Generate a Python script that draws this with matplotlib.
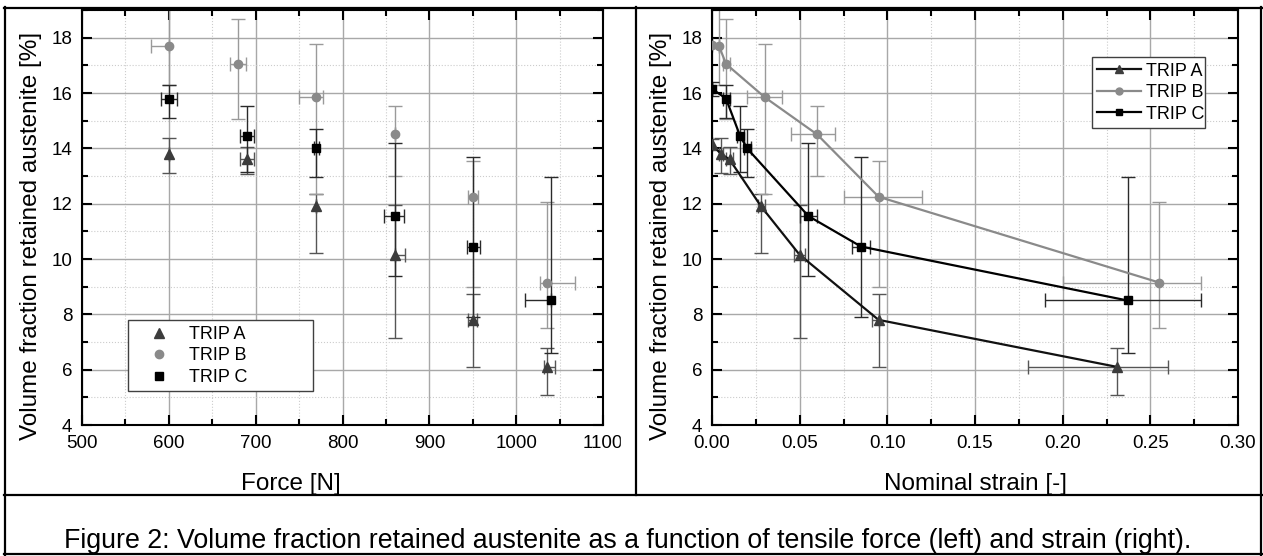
import matplotlib
matplotlib.use("Agg")
import matplotlib.pyplot as plt
from matplotlib.ticker import MultipleLocator
from matplotlib.lines import Line2D
from matplotlib.patches import Rectangle

plt.rcParams['font.family'] = ['Liberation Sans', 'DejaVu Sans']

# ---- data ----
labels = ["TRIP A", "TRIP B", "TRIP C"]

# left panel: tensile force [N]
force_a = [600, 690, 770, 860, 950, 1035]
force_b = [600, 680, 770, 860, 950, 1035]
force_c = [600, 690, 770, 860, 950, 1040]
force_a_lo = [600, 682, 770, 860, 945, 1032]
force_a_hi = [600, 698, 770, 872, 955, 1045]
force_b_lo = [580, 671, 750, 860, 944, 1028]
force_b_hi = [600, 689, 778, 860, 956, 1068]
force_c_lo = [591, 682, 767, 848, 943, 1010]
force_c_hi = [609, 698, 773, 871, 958, 1040]

# right panel: nominal strain (first point = unloaded state)
strain_a = [0.0, 0.005, 0.010, 0.028, 0.050, 0.095, 0.231]
strain_b = [0.0, 0.004, 0.008, 0.030, 0.060, 0.095, 0.255]
strain_c = [0.0, 0.008, 0.016, 0.020, 0.055, 0.085, 0.237]
strain_a_lo = [0.0, 0.004, 0.008, 0.026, 0.047, 0.091, 0.180]
strain_a_hi = [0.0, 0.006, 0.012, 0.030, 0.053, 0.095, 0.260]
strain_b_lo = [0.0, 0.004, 0.006, 0.020, 0.045, 0.075, 0.200]
strain_b_hi = [0.0, 0.004, 0.010, 0.040, 0.070, 0.120, 0.279]
strain_c_lo = [0.0, 0.006, 0.014, 0.018, 0.050, 0.080, 0.190]
strain_c_hi = [0.0, 0.010, 0.018, 0.022, 0.060, 0.090, 0.279]

# volume fraction retained austenite [%] (first value = unloaded state)
frac_a = [14.15, 13.8, 13.6, 11.9, 10.15, 7.8, 6.1]
frac_b = [17.75, 17.7, 17.05, 15.85, 14.5, 12.25, 9.15]
frac_c = [16.15, 15.8, 14.45, 14.0, 11.55, 10.45, 8.5]
frac_a_lo = [13.95, 13.12, 13.06, 10.22, 7.13, 6.10, 5.08]
frac_a_hi = [14.35, 14.36, 14.04, 12.34, 11.94, 8.72, 6.79]
frac_b_lo = [17.75, 16.30, 15.06, 12.34, 13.00, 9.00, 7.49]
frac_b_hi = [17.75, 19.10, 18.68, 17.76, 15.53, 13.55, 12.07]
frac_c_lo = [15.90, 15.08, 13.15, 12.95, 9.37, 7.91, 6.59]
frac_c_hi = [16.40, 16.29, 15.53, 14.70, 14.18, 13.70, 12.97]

caption = ("Figure 2: Volume fraction retained austenite as a function of "
           "tensile force (left) and strain (right).")

# ---- styling ----
marker_col = ['#3c3c3c', '#8a8a8a', '#000000']
line_col = ['#111111', '#8a8a8a', '#000000']
err_col = ['#555555', '#9a9a9a', '#2a2a2a']
markers = ['^', 'o', 's']
msizes = [6.5, 6, 5.5]

W, H = 1263, 556


def px_box(x0, y0, x1, y1):
    return [x0 / W, 1 - y1 / H, (x1 - x0) / W, (y1 - y0) / H]


def style_axes(ax, xmaj, xmin):
    ax.xaxis.set_major_locator(MultipleLocator(xmaj))
    ax.xaxis.set_minor_locator(MultipleLocator(xmin))
    ax.yaxis.set_major_locator(MultipleLocator(2))
    ax.yaxis.set_minor_locator(MultipleLocator(1))
    ax.set_ylim(4, 19)
    ax.grid(which='major', color='#a8a8a8', lw=1.0, ls='-')
    ax.grid(which='minor', color='#cccccc', lw=0.8, ls=':')
    ax.set_axisbelow(True)
    ax.tick_params(which='both', direction='in', top=True, right=True)
    ax.tick_params(which='major', length=7, width=1.5, labelsize=13.5, pad=7)
    ax.tick_params(which='minor', length=4, width=1.5)
    for s in ax.spines.values():
        s.set_linewidth(1.5)
    ax.set_ylabel("Volume fraction retained austenite [%]", fontsize=17.5)
    ax.yaxis.set_label_coords(-0.076, 0.455)


def draw_err(ax, x, xlo, xhi, y, ylo, yhi, col):
    xe = [[a - b for a, b in zip(x, xlo)], [b - a for a, b in zip(x, xhi)]]
    ye = [[a - b for a, b in zip(y, ylo)], [b - a for a, b in zip(y, yhi)]]
    ax.errorbar(x, y, xerr=xe, yerr=ye, fmt='none', ecolor=col,
                elinewidth=1.0, capsize=5, capthick=1.0, zorder=2)


fig = plt.figure(figsize=(12.63, 5.56), dpi=100)
ax1 = fig.add_axes(px_box(82, 10, 603, 425))
ax2 = fig.add_axes(px_box(712, 10, 1238, 425))

# ---- left panel ----
left_sets = [
    (force_a, force_a_lo, force_a_hi, frac_a, frac_a_lo, frac_a_hi),
    (force_b, force_b_lo, force_b_hi, frac_b, frac_b_lo, frac_b_hi),
    (force_c, force_c_lo, force_c_hi, frac_c, frac_c_lo, frac_c_hi),
]
for i, (x, xlo, xhi, y, ylo, yhi) in enumerate(left_sets):
    draw_err(ax1, x, xlo, xhi, y[1:], ylo[1:], yhi[1:], err_col[i])
    ax1.plot(x, y[1:], ls='none', marker=markers[i], ms=msizes[i],
             color=marker_col[i], label=labels[i], zorder=3)
style_axes(ax1, 100, 50)
ax1.set_xlim(500, 1100)
ax1.set_xlabel("Force [N]", fontsize=17.5)
ax1.xaxis.set_label_coords(0.40, -0.115)
leg1 = ax1.legend(loc='upper left', bbox_to_anchor=(0.088, 0.091, 0.355, 0.161),
                  mode='expand', borderaxespad=0, fontsize=13, numpoints=1,
                  handlelength=2.9, handletextpad=0.2, labelspacing=0.25,
                  borderpad=0.3, fancybox=False, framealpha=1)
leg1.get_frame().set_edgecolor('#404040')
leg1.get_frame().set_linewidth(1.0)

# ---- right panel ----
right_sets = [
    (strain_a, strain_a_lo, strain_a_hi, frac_a, frac_a_lo, frac_a_hi),
    (strain_b, strain_b_lo, strain_b_hi, frac_b, frac_b_lo, frac_b_hi),
    (strain_c, strain_c_lo, strain_c_hi, frac_c, frac_c_lo, frac_c_hi),
]
handles = []
for i, (x, xlo, xhi, y, ylo, yhi) in enumerate(right_sets):
    draw_err(ax2, x, xlo, xhi, y, ylo, yhi, err_col[i])
    ax2.plot(x, y, ls='-', lw=1.6, color=line_col[i], zorder=2.5)
    ax2.plot(x, y, ls='none', marker=markers[i], ms=msizes[i],
             color=marker_col[i], zorder=3)
    handles.append(Line2D([], [], color=line_col[i], lw=1.6, marker=markers[i],
                          ms=msizes[i] - 1, mfc=marker_col[i], mec=marker_col[i]))
style_axes(ax2, 0.05, 0.025)
ax2.set_xlim(0, 0.30)
ax2.xaxis.set_major_formatter(plt.FuncFormatter(lambda v, p: f"{v:.2f}"))
ax2.set_xlabel("Nominal strain [-]", fontsize=17.5)
ax2.xaxis.set_label_coords(0.5, -0.115)
leg2 = ax2.legend(handles, labels, loc='upper left',
                  bbox_to_anchor=(0.722, 0.723, 0.216, 0.163), mode='expand',
                  borderaxespad=0, fontsize=13, handlelength=2.4,
                  handletextpad=0.3, labelspacing=0.25, borderpad=0.3,
                  fancybox=False, framealpha=1)
leg2.get_frame().set_edgecolor('#404040')
leg2.get_frame().set_linewidth(1.0)

# ---- table frame around the figure ----
fig.add_artist(Rectangle((621 / W, 1 - 470 / H), 15 / W, 42 / H,
                         transform=fig.transFigure, color='white', zorder=9))


def hline(y, x0, x1):
    fig.add_artist(Line2D([x0 / W, x1 / W], [1 - y / H, 1 - y / H],
                          transform=fig.transFigure, color='black', lw=1.6,
                          zorder=10))


def vline(x, y0, y1):
    fig.add_artist(Line2D([x / W, x / W], [1 - y0 / H, 1 - y1 / H],
                          transform=fig.transFigure, color='black', lw=1.6,
                          zorder=10))


hline(8, 4, 1263)
hline(495, 4, 1262)
hline(554, 4, 1262)
vline(5, 7, 555)
vline(1261, 7, 555)
vline(636, 7, 495)

fig.text(628 / W, 1 - 541 / H, caption, ha='center', va='center', fontsize=19.3)

fig.savefig("out.png", dpi=100)
